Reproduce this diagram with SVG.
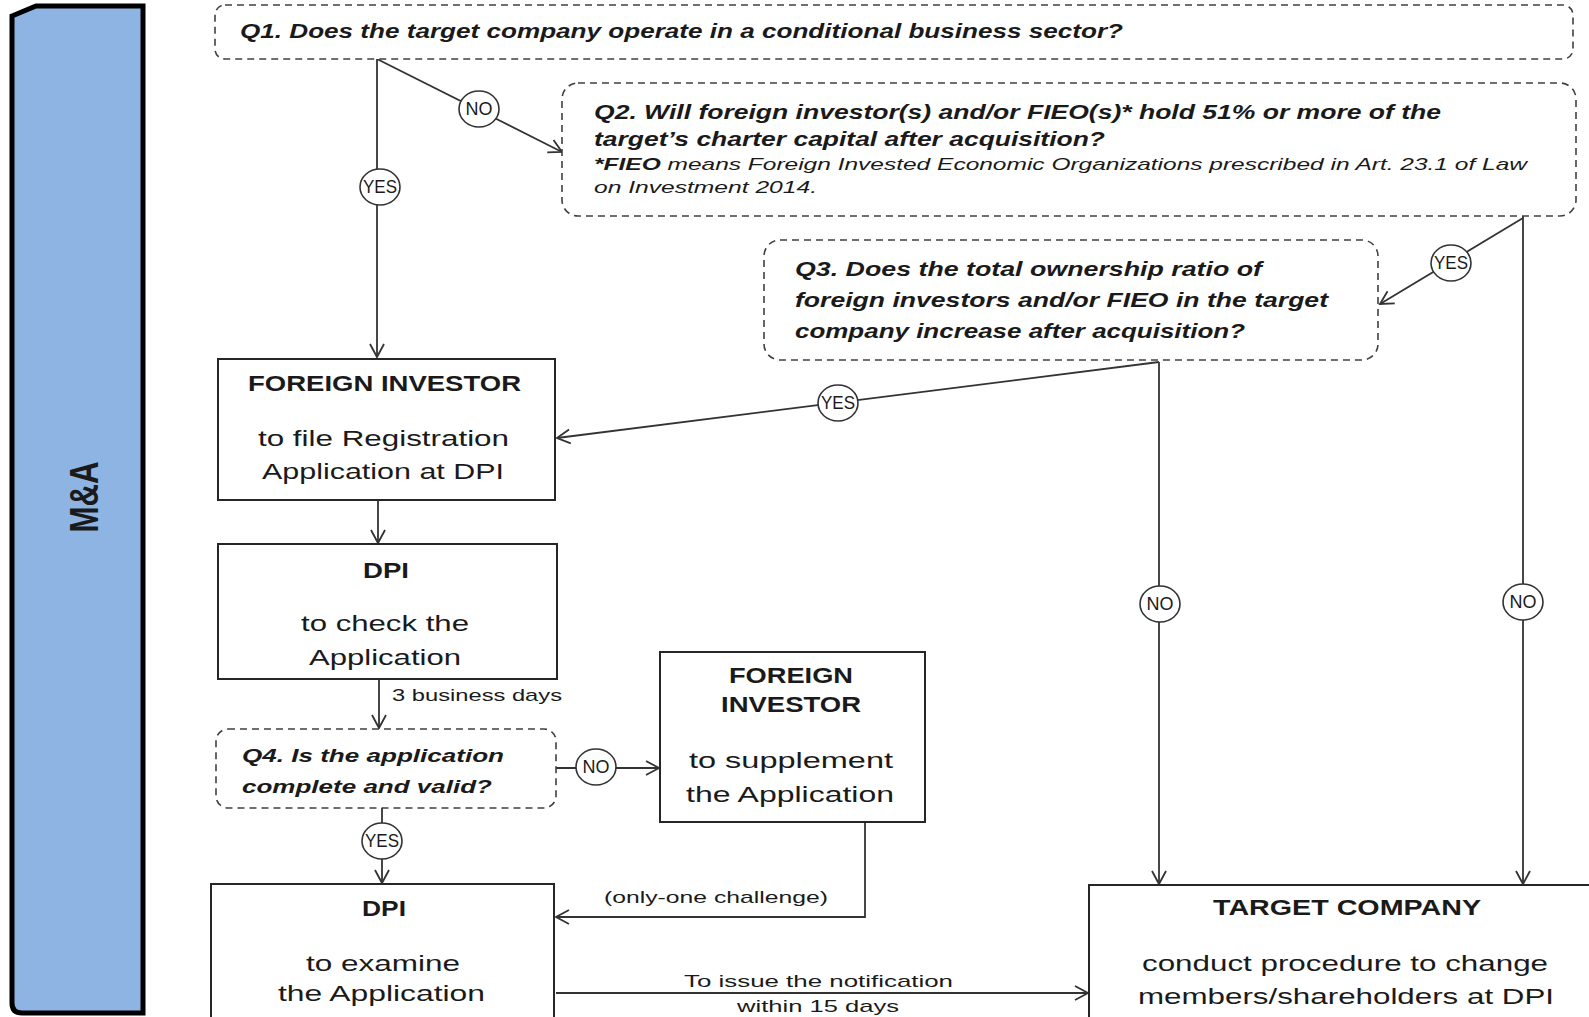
<svg xmlns="http://www.w3.org/2000/svg" width="1589" height="1017" viewBox="0 0 1589 1017">
<defs>
<style>
.box{fill:#fff;stroke:#262626;stroke-width:2}
.q{fill:#fff;stroke:#404040;stroke-width:1.6;stroke-dasharray:7 5}
.c{fill:none;stroke:#333;stroke-width:1.8}
.lbl{fill:#fff;stroke:#333;stroke-width:1.6}
text{font-family:"Liberation Sans",Arial,sans-serif;fill:#1a1a1a}
.b{font-weight:bold}
.qi{font-weight:bold;font-style:italic}
.it{font-style:italic}
.n{font-size:22px}
.s{font-size:17px}
.ct{font-size:18px;text-anchor:middle}
</style>
<marker id="arr" viewBox="-14 -9 16 18" markerWidth="16" markerHeight="18" refX="0" refY="0" orient="auto" markerUnits="userSpaceOnUse">
<path d="M-13,-7 L0,0 L-13,7" fill="none" stroke="#333" stroke-width="1.8"/>
</marker>
</defs>
<rect width="1589" height="1017" fill="#fff"/>

<g id="lane">
<path d="M12,16 L36,6 L143,6 L143,1013 L22,1013 Q12,1013 12,1003 Z" fill="#8EB4E3" stroke="#000" stroke-width="5"/>
<text class="b" transform="translate(98,497) rotate(-90)" text-anchor="middle" font-size="40" textLength="71" lengthAdjust="spacingAndGlyphs">M&amp;A</text>
</g>

<g id="connectors">
<path class="c" d="M377,59 V357" marker-end="url(#arr)"/>
<path class="c" d="M377,59 L562,152" marker-end="url(#arr)"/>
<path class="c" d="M1523,216 V884" marker-end="url(#arr)"/>
<path class="c" d="M1523,218 L1380,304" marker-end="url(#arr)"/>
<path class="c" d="M1159,362 L557,438" marker-end="url(#arr)"/>
<path class="c" d="M1159,362 V884" marker-end="url(#arr)"/>
<path class="c" d="M378,500 V543" marker-end="url(#arr)"/>
<path class="c" d="M379,679 V728" marker-end="url(#arr)"/>
<path class="c" d="M556,768 H659" marker-end="url(#arr)"/>
<path class="c" d="M382,808 V883" marker-end="url(#arr)"/>
<path class="c" d="M865,822 V917 H556" marker-end="url(#arr)"/>
<path class="c" d="M556,993 H1088" marker-end="url(#arr)"/>
<text class="s" x="392" y="701" textLength="170" lengthAdjust="spacingAndGlyphs">3 business days</text>
<text class="s" x="604" y="903" textLength="224" lengthAdjust="spacingAndGlyphs">(only-one challenge)</text>
<text class="s" x="684" y="987" textLength="269" lengthAdjust="spacingAndGlyphs">To issue the notification</text>
<text class="s" x="737" y="1012" textLength="162" lengthAdjust="spacingAndGlyphs">within 15 days</text>
<g id="labels">
<ellipse class="lbl" cx="479" cy="109" rx="20" ry="18"/><text class="ct" x="479" y="115">NO</text>
<ellipse class="lbl" cx="380" cy="187" rx="20" ry="18"/><text class="ct" x="380" y="193" textLength="34" lengthAdjust="spacingAndGlyphs">YES</text>
<ellipse class="lbl" cx="1451" cy="263" rx="20" ry="18"/><text class="ct" x="1451" y="269" textLength="34" lengthAdjust="spacingAndGlyphs">YES</text>
<ellipse class="lbl" cx="838" cy="403" rx="20" ry="18"/><text class="ct" x="838" y="409" textLength="34" lengthAdjust="spacingAndGlyphs">YES</text>
<ellipse class="lbl" cx="1160" cy="604" rx="20" ry="18"/><text class="ct" x="1160" y="610">NO</text>
<ellipse class="lbl" cx="1523" cy="602" rx="20" ry="18"/><text class="ct" x="1523" y="608">NO</text>
<ellipse class="lbl" cx="596" cy="767" rx="20" ry="18"/><text class="ct" x="596" y="773">NO</text>
<ellipse class="lbl" cx="382" cy="841" rx="20" ry="18"/><text class="ct" x="382" y="847" textLength="34" lengthAdjust="spacingAndGlyphs">YES</text>
</g>
</g>

<g id="q1">
<rect class="q" x="215" y="5" width="1358" height="54" rx="10"/>
<text class="qi" x="240" y="38" font-size="19.5" textLength="883" lengthAdjust="spacingAndGlyphs">Q1. Does the target company operate in a conditional business sector?</text>
</g>

<g id="q2">
<rect class="q" x="562" y="83" width="1014" height="133" rx="16"/>
<text class="qi" x="594" y="119" font-size="20" textLength="847" lengthAdjust="spacingAndGlyphs">Q2. Will foreign investor(s) and/or FIEO(s)* hold 51% or more of the</text>
<text class="qi" x="594" y="146" font-size="20" textLength="511" lengthAdjust="spacingAndGlyphs">target’s charter capital after acquisition?</text>
<text class="it" x="594" y="170" font-size="17" textLength="933" lengthAdjust="spacingAndGlyphs"><tspan class="b">*FIEO</tspan> means Foreign Invested Economic Organizations prescribed in Art. 23.1 of Law</text>
<text class="it" x="594" y="193" font-size="17" textLength="223" lengthAdjust="spacingAndGlyphs">on Investment 2014.</text>
</g>

<g id="q3">
<rect class="q" x="764" y="240" width="614" height="120" rx="16"/>
<text class="qi" x="795" y="276" font-size="20" textLength="467" lengthAdjust="spacingAndGlyphs">Q3. Does the total ownership ratio of</text>
<text class="qi" x="795" y="307" font-size="20" textLength="533" lengthAdjust="spacingAndGlyphs">foreign investors and/or FIEO in the target</text>
<text class="qi" x="795" y="338" font-size="20" textLength="450" lengthAdjust="spacingAndGlyphs">company increase after acquisition?</text>
</g>

<g id="fi1">
<rect class="box" x="218" y="359" width="337" height="141"/>
<text class="b n" x="248" y="391" textLength="273" lengthAdjust="spacingAndGlyphs">FOREIGN INVESTOR</text>
<text class="n" x="258" y="446" textLength="251" lengthAdjust="spacingAndGlyphs">to file Registration</text>
<text class="n" x="262" y="479" textLength="242" lengthAdjust="spacingAndGlyphs">Application at DPI</text>
</g>

<g id="dpi1">
<rect class="box" x="218" y="544" width="339" height="135"/>
<text class="b n" x="363" y="578" textLength="46" lengthAdjust="spacingAndGlyphs">DPI</text>
<text class="n" x="301" y="631" textLength="168" lengthAdjust="spacingAndGlyphs">to check the</text>
<text class="n" x="309" y="665" textLength="152" lengthAdjust="spacingAndGlyphs">Application</text>
</g>

<g id="q4">
<rect class="q" x="216" y="729" width="340" height="79" rx="12"/>
<text class="qi" x="242" y="762" font-size="19" textLength="262" lengthAdjust="spacingAndGlyphs">Q4. Is the application</text>
<text class="qi" x="242" y="793" font-size="19" textLength="250" lengthAdjust="spacingAndGlyphs">complete and valid?</text>
</g>

<g id="fi2">
<rect class="box" x="660" y="652" width="265" height="170"/>
<text class="b n" x="729" y="683" textLength="124" lengthAdjust="spacingAndGlyphs">FOREIGN</text>
<text class="b n" x="721" y="712" textLength="140" lengthAdjust="spacingAndGlyphs">INVESTOR</text>
<text class="n" x="689" y="768" textLength="204" lengthAdjust="spacingAndGlyphs">to supplement</text>
<text class="n" x="686" y="802" textLength="208" lengthAdjust="spacingAndGlyphs">the Application</text>
</g>

<g id="dpi2">
<rect class="box" x="211" y="884" width="343" height="140"/>
<text class="b n" x="362" y="916" textLength="44" lengthAdjust="spacingAndGlyphs">DPI</text>
<text class="n" x="306" y="971" textLength="154" lengthAdjust="spacingAndGlyphs">to examine</text>
<text class="n" x="278" y="1001" textLength="207" lengthAdjust="spacingAndGlyphs">the Application</text>
</g>

<g id="target">
<rect class="box" x="1089" y="885" width="510" height="140"/>
<text class="b n" x="1213" y="915" textLength="268" lengthAdjust="spacingAndGlyphs">TARGET COMPANY</text>
<text class="n" x="1142" y="971" textLength="406" lengthAdjust="spacingAndGlyphs">conduct procedure to change</text>
<text class="n" x="1138" y="1004" textLength="416" lengthAdjust="spacingAndGlyphs">members/shareholders at DPI</text>
</g>
</svg>
